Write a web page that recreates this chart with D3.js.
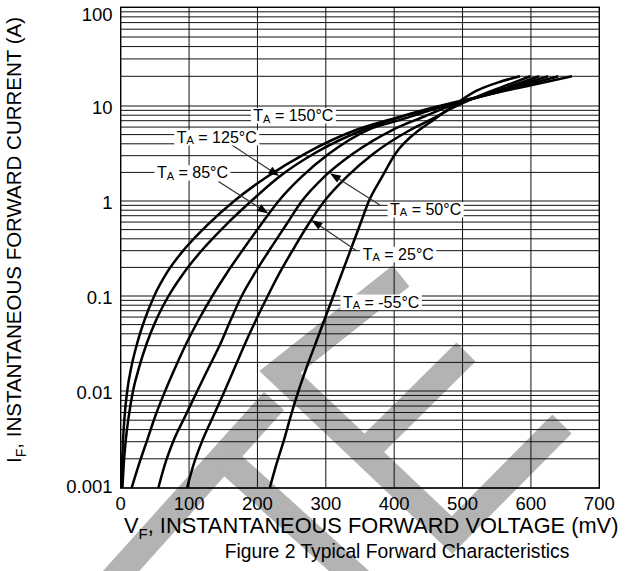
<!DOCTYPE html>
<html>
<head>
<meta charset="utf-8">
<script src="https://cdn.jsdelivr.net/npm/d3@7"></script>
<style>
  html, body { margin: 0; padding: 0; background: #fff; }
  svg { display: block; font-family: "Liberation Sans", Arial, Helvetica, sans-serif; }
</style>
</head>
<body>
<svg id="chart" width="636" height="571"></svg>
<script>
// Forward voltage ticks (mV) and current decades (A)
const xTicks = [0, 100, 200, 300, 400, 500, 600, 700];
const yDecades = [0.001, 0.01, 0.1, 1, 10, 100];
const yTickLabels = ["0.001", "0.01", "0.1", "1", "10", "100"];

// Typical forward characteristics: [VF (mV), IF (A)]
const curve150 = [[1,0.001],[2,0.00178],[3.5,0.00316],[5.8,0.00562],[9.5,0.01],[15.5,0.0178],[24,0.0316],[35,0.0562],[49,0.1],[68,0.178],[94,0.316],[127,0.562],[166,1],[213,1.78],[270,3.16],[345,5.62],[400,7.41],[445,9.12],[490,10.96],[540,13.2],[600,16.2],[660,20]];
const curve125 = [[2.5,0.001],[4.5,0.00178],[7.5,0.00316],[12,0.00562],[18,0.01],[27,0.0178],[38,0.0316],[52,0.0562],[70,0.1],[93,0.178],[121,0.316],[154,0.562],[191,1],[231,1.78],[283,3.16],[355,5.62],[412,7.76],[465,9.66],[505,11.4],[560,14.3],[640,20]];
const curve85 = [[16,0.001],[27,0.00178],[39,0.00316],[51,0.00562],[65,0.01],[80,0.0178],[96,0.0316],[114,0.0562],[134,0.1],[156,0.178],[180,0.316],[205,0.562],[231,1],[264,1.78],[305,3.16],[362,5.62],[408,7.1],[470,9.8],[508,11.5],[560,14.6],[625,20]];
const curve50 = [[55,0.001],[65,0.00178],[78,0.00316],[95,0.00562],[112,0.01],[129,0.0178],[146,0.0316],[161,0.0562],[177,0.1],[197,0.178],[219,0.316],[242,0.562],[265,1],[297,1.78],[340,3.16],[398,5.62],[445,7.8],[478,9.8],[510,11.6],[560,15.0],[612,20]];
const curve25 = [[97,0.001],[107,0.00178],[120,0.00316],[136,0.00562],[152,0.01],[167,0.0178],[182,0.0316],[198,0.0562],[215,0.1],[233,0.178],[253,0.316],[274,0.562],[298,1],[330,1.78],[370,3.16],[424,5.62],[460,7.6],[486,9.6],[515,11.9],[560,15.8],[599,20]];
const curveM55 = [[218,0.001],[228,0.00178],[239,0.00316],[249,0.00562],[260,0.01],[272,0.0178],[285,0.0316],[298,0.0562],[311,0.1],[324,0.178],[337,0.316],[350,0.562],[363,1],[382,1.78],[402,3.16],[437,5.62],[457,7.1],[484,9.8],[520,14.2],[555,17.6],[584,20]];

const curves = [curve150, curve125, curve85, curve50, curve25, curveM55];

// Temperature labels: text start (mV) and centre line (A)
const tempLabels = [
  { temp: "150", v: 194, i: 8.0 },
  { temp: "125", v: 82, i: 4.7 },
  { temp: "85", v: 53, i: 2.0 },
  { temp: "50", v: 394, i: 0.82 },
  { temp: "25", v: 354, i: 0.277 },
  { temp: "-55", v: 325, i: 0.087 }
];

// Leader arrows: tail and tip in data units
const leaders = [
  { from: [162, 3.9], to: [232, 1.83] },
  { from: [143, 1.6], to: [216, 0.74] },
  { from: [379, 0.91], to: [306, 1.96] },
  { from: [345, 0.30], to: [279, 0.63] }
];

const svg = d3.select("#chart");
const plot = { left: 120.7, right: 599.3, top: 7.3, bottom: 488 };

const x = d3.scaleLinear().domain([0, 700]).range([plot.left, plot.right]);
// log axis drawn decade by decade (the printed grid is slightly uneven)
const y = d3.scaleLog().domain(yDecades).range([488, 391, 296, 201, 106, 7.3]);

svg.append("rect").attr("width", 636).attr("height", 571).attr("fill", "#fff");

// faint diagonal stamp behind the grid
const stamp = svg.append("g")
  .attr("fill", "none")
  .attr("stroke", "#b3b3b3")
  .attr("stroke-width", 27)
  .attr("stroke-linejoin", "miter")
  .attr("stroke-linecap", "butt");
stamp.append("path").attr("d", "M274,401 L86,610");
stamp.append("path").attr("d", "M223,457 L381,600");
stamp.append("path").attr("d", "M401,276 L280,372 L452,535 L562,424");
stamp.append("path").attr("d", "M365,452 L466,352");

// grid
const grid = svg.append("g").attr("stroke", "#111").attr("stroke-width", 1);
const yGrid = [];
yDecades.slice(0, -1).forEach(d => { for (let m = 1; m < 10; m++) yGrid.push(d * m); });
grid.selectAll("line.h").data(yGrid).join("line")
  .attr("class", "h")
  .attr("x1", plot.left).attr("x2", plot.right)
  .attr("y1", d => y(d)).attr("y2", d => y(d));
grid.selectAll("line.v").data(xTicks.slice(1, -1)).join("line")
  .attr("class", "v")
  .attr("x1", d => x(d)).attr("x2", d => x(d))
  .attr("y1", plot.top).attr("y2", plot.bottom);

svg.append("rect")
  .attr("x", plot.left).attr("y", plot.top)
  .attr("width", plot.right - plot.left).attr("height", plot.bottom - plot.top)
  .attr("fill", "none").attr("stroke", "#000").attr("stroke-width", 1.4);

// characteristic curves
const line = d3.line().x(d => x(d[0])).y(d => y(d[1])).curve(d3.curveMonotoneX);
svg.append("g").selectAll("path").data(curves).join("path")
  .attr("d", line)
  .attr("fill", "none").attr("stroke", "#000").attr("stroke-width", 2.5)
  .attr("stroke-linejoin", "round");

// leader arrows
const lead = svg.append("g");
leaders.forEach(a => {
  const x0 = x(a.from[0]), y0 = y(a.from[1]);
  const x1 = x(a.to[0]), y1 = y(a.to[1]);
  const len = Math.hypot(x1 - x0, y1 - y0);
  const ux = (x1 - x0) / len, uy = (y1 - y0) / len;
  const L = 11, w = 4;
  lead.append("line")
    .attr("x1", x0).attr("y1", y0)
    .attr("x2", x1 - ux * L * 0.6).attr("y2", y1 - uy * L * 0.6)
    .attr("stroke", "#333").attr("stroke-width", 1.2);
  const bx = x1 - ux * L, by = y1 - uy * L;
  lead.append("path")
    .attr("d", `M${x1},${y1} L${bx - uy * w},${by + ux * w} L${bx + uy * w},${by - ux * w} Z`)
    .attr("fill", "#000");
});

// temperature labels on white boxes
tempLabels.forEach(a => {
  const g = svg.append("g");
  const t = g.append("text")
    .attr("x", x(a.v)).attr("y", y(a.i) + 5.8)
    .attr("font-size", 16).attr("fill", "#000");
  t.append("tspan").text("T");
  t.append("tspan").attr("font-size", 11).attr("dy", 1.5).text("A");
  t.append("tspan").attr("dy", -1.5).text(" = " + a.temp + "°C");
  const bb = t.node().getBBox();
  g.insert("rect", "text")
    .attr("x", bb.x - 2.5).attr("y", bb.y + 1)
    .attr("width", bb.width + 5).attr("height", bb.height - 2)
    .attr("fill", "#fff");
});

// y tick labels
const yLab = svg.append("g").attr("font-size", 18.5).attr("text-anchor", "end").attr("fill", "#000");
yDecades.forEach((d, k) => {
  let cy = y(d) + 1.5;
  if (d === 100) cy = 14;
  if (d === 0.001) cy = 486;
  yLab.append("text").attr("x", 112.5).attr("y", cy + 6.6).text(yTickLabels[k]);
});

// x tick labels
svg.append("g").attr("font-size", 18.5).attr("text-anchor", "middle").attr("fill", "#000")
  .selectAll("text").data(xTicks).join("text")
  .attr("x", d => x(d)).attr("y", 510)
  .text(d => d);

// axis titles
const xt = svg.append("text").attr("x", 124).attr("y", 533).attr("font-size", 21.8).attr("fill", "#000");
xt.append("tspan").text("V");
xt.append("tspan").attr("font-size", 15).attr("dy", 6).text("F");
xt.append("tspan").attr("dy", -6).text(", INSTANTANEOUS FORWARD VOLTAGE (mV)");

const yt = svg.append("text")
  .attr("transform", "translate(20.5,240) rotate(-90)")
  .attr("text-anchor", "middle").attr("font-size", 20.5).attr("fill", "#000");
yt.append("tspan").text("I");
yt.append("tspan").attr("font-size", 14).attr("dy", 5).text("F");
yt.append("tspan").attr("dy", -5).text(", INSTANTANEOUS FORWARD CURRENT (A)");

svg.append("text")
  .attr("x", 397).attr("y", 558).attr("text-anchor", "middle")
  .attr("font-size", 19.3).attr("fill", "#000")
  .text("Figure 2 Typical Forward Characteristics");
</script>
</body>
</html>
